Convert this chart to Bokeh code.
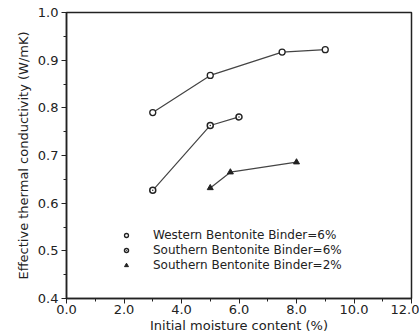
from bokeh.plotting import figure
from bokeh.models import Legend, LegendItem, Range1d, FixedTicker
from bokeh.embed import file_html
from bokeh.resources import INLINE

# Data
western_x = [3.0, 5.0, 7.5, 9.0]
western_y = [0.790, 0.868, 0.917, 0.922]
south6_x = [3.0, 5.0, 6.0]
south6_y = [0.627, 0.763, 0.781]
south2_x = [5.0, 5.7, 8.0]
south2_y = [0.632, 0.665, 0.686]

labels = ["Western Bentonite Binder=6%",
          "Southern Bentonite Binder=6%",
          "Southern Bentonite Binder=2%"]

x_ticks = [0, 2, 4, 6, 8, 10, 12]
y_ticks = [0.4, 0.5, 0.6, 0.7, 0.8, 0.9, 1.0]

FONT = "DejaVu Sans"
INK = "#222222"

p = figure(width=419, height=335, output_backend="svg", toolbar_location=None,
           x_range=Range1d(0, 12), y_range=Range1d(0.4, 1.0),
           min_border_left=66, min_border_right=8, min_border_top=12,
           min_border_bottom=37)
p.grid.visible = False
p.outline_line_color = INK
p.outline_line_width = 1.5
p.background_fill_color = "white"
p.border_fill_color = "white"

p.xaxis.ticker = FixedTicker(ticks=x_ticks, minor_ticks=[1, 3, 5, 7, 9, 11])
p.yaxis.ticker = FixedTicker(ticks=y_ticks,
                             minor_ticks=[0.45, 0.55, 0.65, 0.75, 0.85, 0.95])
p.xaxis.major_label_overrides = {t: f"{t:.1f}" for t in x_ticks}
p.yaxis.major_label_overrides = {t: f"{t:.1f}" for t in y_ticks}

for ax in (p.xaxis[0], p.yaxis[0]):
    ax.axis_line_color = INK
    ax.axis_line_width = 1.5
    ax.major_tick_line_color = INK
    ax.minor_tick_line_color = INK
    ax.major_tick_in = 0
    ax.major_tick_out = 5
    ax.minor_tick_in = 0
    ax.minor_tick_out = 3
    ax.major_label_text_font = FONT
    ax.major_label_text_font_size = "13px"
    ax.major_label_text_color = INK
    ax.axis_label_text_font = FONT
    ax.axis_label_text_font_size = "13px"
    ax.axis_label_text_font_style = "normal"
    ax.axis_label_text_color = INK

p.xaxis.axis_label = "Initial moisture content (%)"
p.yaxis.axis_label = "Effective thermal conductivity (W/mK)"
p.xaxis.major_label_standoff = 1
p.xaxis.axis_label_standoff = 1
p.yaxis.major_label_standoff = 3
p.yaxis.axis_label_standoff = 4

line_kw = dict(line_color="#444444", line_width=1.2)
p.line(western_x, western_y, **line_kw)
p.line(south6_x, south6_y, **line_kw)
p.line(south2_x, south2_y, **line_kw)

r1 = p.scatter(western_x, western_y, marker="circle", size=6,
               fill_color="white", line_color=INK, line_width=1.3)
r2 = p.scatter(south6_x, south6_y, marker="circle_dot", size=6,
               fill_color="white", line_color=INK, line_width=1.5)
r3 = p.scatter(south2_x, south2_y, marker="triangle", size=6,
               fill_color=INK, line_color=INK, line_width=1)

legend = Legend(items=[LegendItem(label=labels[0], renderers=[r1]),
                       LegendItem(label=labels[1], renderers=[r2]),
                       LegendItem(label=labels[2], renderers=[r3])],
                location=(37, 24))
legend.background_fill_alpha = 0
legend.border_line_alpha = 0
legend.label_text_font = FONT
legend.label_text_font_size = "12px"
legend.label_text_color = INK
legend.glyph_width = 42
legend.glyph_height = 10
legend.label_height = 10
legend.spacing = 1
legend.padding = 2
legend.margin = 0
legend.label_standoff = 6
p.add_layout(legend)

open("out.html", "w").write(file_html(p, INLINE))
